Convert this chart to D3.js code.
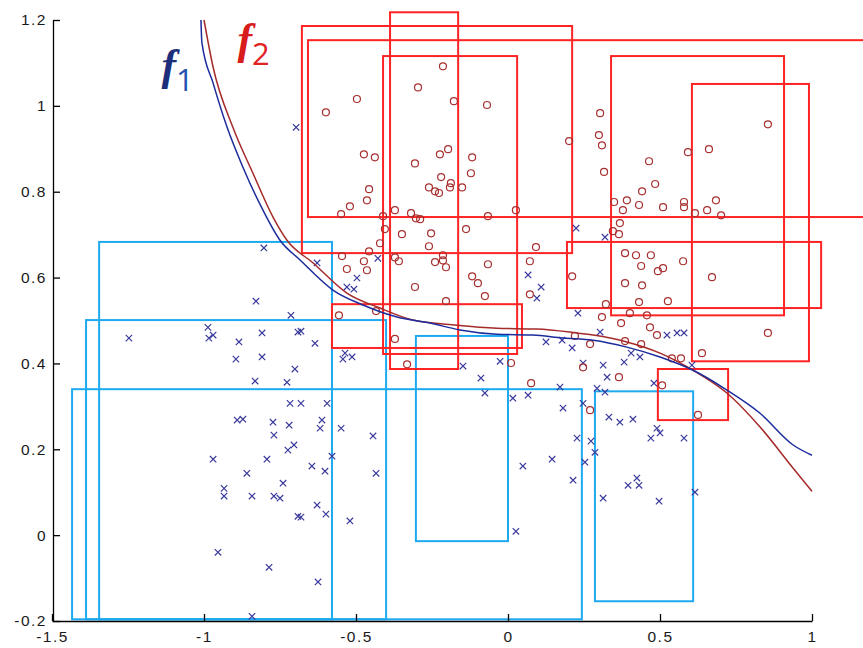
<!DOCTYPE html>
<html>
<head>
<meta charset="utf-8">
<script src="https://cdn.jsdelivr.net/npm/d3@7"></script>
<style>
  html, body { margin: 0; padding: 0; background: #fff; }
  svg { display: block; }
</style>
</head>
<body>
<div id="chart"></div>
<script>
// ---- data ----
const xTicks = [-1.5, -1, -0.5, 0, 0.5, 1];
const yTicks = [-0.2, 0, 0.2, 0.4, 0.6, 0.8, 1, 1.2];

// decision curves
const curveF1 = [
  [-1.010, 1.200], [-1.007, 1.148], [-0.970, 1.053], [-0.924, 0.950], [-0.872, 0.857],
  [-0.806, 0.757], [-0.750, 0.687], [-0.684, 0.641], [-0.576, 0.571], [-0.477, 0.536],
  [-0.365, 0.508], [-0.257, 0.494], [-0.158, 0.478], [-0.036, 0.468], [0.082, 0.466],
  [0.181, 0.459], [0.280, 0.454], [0.391, 0.438], [0.500, 0.415], [0.609, 0.384],
  [0.720, 0.338], [0.829, 0.284], [0.938, 0.210], [1.000, 0.186]
];
const curveF2 = [
  [-1.000, 1.200], [-0.970, 1.090], [-0.905, 0.950], [-0.839, 0.843], [-0.773, 0.741],
  [-0.727, 0.687], [-0.641, 0.634], [-0.530, 0.564], [-0.421, 0.529], [-0.313, 0.501],
  [-0.168, 0.489], [-0.036, 0.482], [0.095, 0.480], [0.214, 0.472], [0.280, 0.466],
  [0.391, 0.450], [0.500, 0.424], [0.609, 0.384], [0.720, 0.331], [0.829, 0.252],
  [0.938, 0.156], [1.000, 0.102]
];

// boxes: [x0, x1, y0, y1]
const redBoxes = [
  [-0.678, 0.211, 0.657, 1.186],
  [-0.658, 1.250, 0.741, 1.153],
  [-0.411, 0.030, 0.422, 1.116],
  [-0.388, -0.164, 0.387, 1.218],
  [0.339, 0.908, 0.512, 1.116],
  [0.605, 0.990, 0.405, 1.051],
  [0.194, 1.030, 0.529, 0.683],
  [-0.579, 0.046, 0.436, 0.538],
  [0.493, 0.724, 0.268, 0.387]
];
const blueBoxes = [
  [-1.345, -0.579, -0.196, 0.683],
  [-1.388, -0.401, -0.196, 0.501],
  [-1.434, 0.243, -0.196, 0.340],
  [-0.303, 0.000, -0.014, 0.464],
  [0.286, 0.609, -0.154, 0.335]
];

// class 2 samples (circles)
const redX = [
  -0.214, -0.296, -0.497, -0.599, -0.178, -0.069, 0.201, -0.474, -0.438, -0.306,
  -0.224, -0.197, -0.118, -0.122, -0.220, -0.260, -0.240, -0.227, -0.188, -0.191,
  -0.151, -0.457, -0.464, -0.520, -0.549, -0.411, -0.372, -0.319, -0.303, -0.289,
  -0.066, 0.026, 0.303, 0.299, 0.309, 0.316, 0.464, 0.592, 0.661, 0.855,
  0.484, 0.441, 0.349, 0.391, 0.378, 0.431, 0.510, 0.579, 0.579, 0.615,
  0.655, 0.684, 0.701, -0.405, -0.349, -0.253, -0.138, -0.421, -0.260, 0.092,
  -0.546, -0.457, -0.474, -0.464, -0.530, -0.372, -0.359, -0.240, -0.214, -0.214,
  -0.204, -0.066, 0.072, -0.118, -0.099, -0.076, -0.306, -0.204, 0.072, 0.211,
  -0.556, -0.434, -0.372, -0.332, 0.010, 0.076, 0.220, 0.368, 0.345, 0.365,
  0.385, 0.421, 0.470, 0.438, 0.493, 0.510, 0.576, 0.385, 0.441, 0.671,
  0.431, 0.526, 0.322, 0.401, 0.457, 0.309, 0.372, 0.467, 0.490, 0.270,
  0.385, 0.438, 0.539, 0.569, 0.638, 0.855, 0.247, 0.365, 0.507, 0.270,
  0.625
];
const redY = [
  1.092, 1.043, 1.016, 0.985, 1.011, 1.002, 0.918, 0.887, 0.880, 0.866,
  0.887, 0.899, 0.880, 0.843, 0.834, 0.810, 0.801, 0.797, 0.820, 0.810,
  0.810, 0.806, 0.780, 0.766, 0.748, 0.743, 0.757, 0.750, 0.738, 0.736,
  0.743, 0.757, 0.983, 0.932, 0.908, 0.846, 0.871, 0.892, 0.899, 0.957,
  0.818, 0.801, 0.776, 0.780, 0.757, 0.769, 0.764, 0.776, 0.764, 0.750,
  0.757, 0.780, 0.745, 0.713, 0.701, 0.703, 0.713, 0.680, 0.673, 0.671,
  0.650, 0.661, 0.638, 0.617, 0.620, 0.647, 0.638, 0.636, 0.652, 0.640,
  0.624, 0.631, 0.638, 0.603, 0.587, 0.557, 0.578, 0.545, 0.561, 0.603,
  0.512, 0.522, 0.457, 0.398, 0.401, 0.354, 0.464, 0.727, 0.708, 0.701,
  0.657, 0.652, 0.652, 0.627, 0.615, 0.622, 0.638, 0.587, 0.582, 0.601,
  0.543, 0.545, 0.538, 0.517, 0.512, 0.508, 0.494, 0.484, 0.466, 0.445,
  0.452, 0.445, 0.412, 0.412, 0.424, 0.471, 0.391, 0.368, 0.349, 0.291,
  0.280
];

// class 1 samples (crosses)
const blueX = [
  -0.697, -0.803, -0.829, -0.714, -0.987, -0.970, -0.984, -0.809, -0.691, -0.885,
  -1.247, -0.895, -0.809, -0.701, -0.832, -0.727, -0.717, -0.891, -0.872, -0.773,
  -0.720, -0.770, -0.724, -0.704, -0.970, -0.793, -0.859, -0.740, -0.934, -0.934,
  -0.842, -0.770, -0.750, -0.691, -0.954, -0.786, -0.842, -0.618, -0.549, -0.444,
  -0.579, -0.645, -0.602, -0.434, -0.628, -0.599, -0.681, -0.520, -0.625, 0.026,
  0.049, 0.145, 0.214, 0.227, 0.273, 0.286, 0.253, 0.470, 0.500, 0.579,
  0.395, 0.424, 0.431, 0.313, 0.497, 0.615, -0.428, -0.628, -0.497, -0.530,
  -0.507, -0.681, -0.635, -0.536, -0.513, -0.543, -0.681, -0.595, -0.612, -0.148,
  -0.089, -0.076, -0.026, 0.066, 0.109, 0.095, 0.016, 0.066, 0.171, 0.181,
  0.125, 0.178, 0.211, 0.230, 0.224, 0.319, 0.303, 0.523, 0.556, 0.579,
  0.405, 0.382, 0.434, 0.313, 0.326, 0.247, 0.605, 0.480, 0.293, 0.319,
  0.247, 0.332, 0.368, 0.411, 0.490
];
const blueY = [
  0.950, 0.669, 0.545, 0.512, 0.484, 0.466, 0.459, 0.471, 0.473, 0.450,
  0.459, 0.410, 0.415, 0.387, 0.359, 0.356, 0.307, 0.268, 0.270, 0.263,
  0.256, 0.233, 0.198, 0.210, 0.177, 0.177, 0.144, 0.121, 0.109, 0.091,
  0.091, 0.091, 0.086, 0.044, -0.040, -0.075, -0.189, 0.249, 0.249, 0.231,
  0.184, 0.161, 0.149, 0.144, 0.070, 0.049, 0.042, 0.033, -0.109, 0.009,
  0.161, 0.177, 0.128, 0.226, 0.219, 0.193, 0.170, 0.226, 0.238, 0.226,
  0.116, 0.133, 0.116, 0.086, 0.079, 0.100, 0.645, 0.634, 0.599, 0.578,
  0.573, 0.475, 0.447, 0.424, 0.415, 0.410, 0.307, 0.307, 0.268, 0.394,
  0.366, 0.331, 0.405, 0.606, 0.578, 0.552, 0.319, 0.326, 0.345, 0.296,
  0.450, 0.454, 0.436, 0.517, 0.715, 0.694, 0.473, 0.466, 0.471, 0.471,
  0.424, 0.403, 0.415, 0.396, 0.368, 0.401, 0.396, 0.354, 0.342, 0.333,
  0.307, 0.275, 0.263, 0.270, 0.249
];

// ---- drawing ----
const width = 863, height = 648;
const svg = d3.select('#chart').append('svg')
    .attr('width', width).attr('height', height)
    .attr('viewBox', `0 0 ${width} ${height}`);

const x = d3.scaleLinear().domain([-1.5, 1]).range([52, 812]);
const y = d3.scaleLinear().domain([-0.2, 1.2]).range([621, 20]);

const COL = {
    redBox: '#ff2424',
    blueBox: '#1eaaf0',
    circle: '#a83030',
    cross: '#3a3a9c',
    f1: '#1c2c9c',
    f2: '#a52a2a'
};

// boxes
svg.append('g').selectAll('rect').data(blueBoxes).join('rect')
    .attr('x', (d) => x(d[0])).attr('y', (d) => y(d[3]))
    .attr('width', (d) => x(d[1]) - x(d[0])).attr('height', (d) => y(d[2]) - y(d[3]))
    .attr('fill', 'none').attr('stroke', COL.blueBox).attr('stroke-width', 2);

svg.append('g').selectAll('rect').data(redBoxes).join('rect')
    .attr('x', (d) => x(d[0])).attr('y', (d) => y(d[3]))
    .attr('width', (d) => x(d[1]) - x(d[0])).attr('height', (d) => y(d[2]) - y(d[3]))
    .attr('fill', 'none').attr('stroke', COL.redBox).attr('stroke-width', 2);

// samples
const crosses = blueX.map((v, i) => [v, blueY[i]]);
const circles = redX.map((v, i) => [v, redY[i]]);
const s = 3.2;
svg.append('g').selectAll('path').data(crosses).join('path')
    .attr('d', (d) => {
        const cx = x(d[0]), cy = y(d[1]);
        return `M${cx - s},${cy - s}L${cx + s},${cy + s}M${cx - s},${cy + s}L${cx + s},${cy - s}`;
    })
    .attr('stroke', COL.cross).attr('stroke-width', 1.2).attr('fill', 'none');

svg.append('g').selectAll('circle').data(circles).join('circle')
    .attr('cx', (d) => x(d[0])).attr('cy', (d) => y(d[1])).attr('r', 3.5)
    .attr('fill', 'none').attr('stroke', COL.circle).attr('stroke-width', 1.2);

// curves
const line = d3.line().x((d) => x(d[0])).y((d) => y(d[1])).curve(d3.curveMonotoneX);
svg.append('path').datum(curveF2).attr('d', line)
    .attr('fill', 'none').attr('stroke', COL.f2).attr('stroke-width', 1.5);
svg.append('path').datum(curveF1).attr('d', line)
    .attr('fill', 'none').attr('stroke', COL.f1).attr('stroke-width', 1.5);

// axes (MATLAB style, ticks pointing in)
const fmt = (d) => String(+d.toFixed(1));
const styleAxis = (g) => {
    g.selectAll('path.domain').attr('stroke', '#000').attr('stroke-width', 1.3);
    g.selectAll('.tick line').attr('stroke', '#000').attr('stroke-width', 1.3);
    g.selectAll('.tick text')
        .attr('fill', '#1a1a1a')
        .style('font-family', 'Liberation Sans, Arial, sans-serif')
        .style('font-size', '15.5px')
        .style('letter-spacing', '1.5px');
};
svg.append('g').attr('transform', `translate(0,${y(-0.2)})`)
    .call(d3.axisBottom(x).tickValues(xTicks).tickFormat(fmt)
        .tickSizeInner(-7).tickSizeOuter(0).tickPadding(10))
    .call(styleAxis);
svg.append('g').attr('transform', `translate(${x(-1.5) + 1},0)`)
    .call(d3.axisLeft(y).tickValues(yTicks).tickFormat(fmt)
        .tickSizeInner(-7).tickSizeOuter(0).tickPadding(6))
    .call(styleAxis);

// curve labels
function label(tx, ty, sub, color, subColor) {
    const t = svg.append('text')
        .attr('x', x(tx)).attr('y', y(ty))
        .attr('fill', color);
    t.append('tspan').text('f')
        .style('font-family', 'Liberation Serif, serif')
        .style('font-style', 'italic')
        .style('font-weight', 'bold')
        .style('font-size', '44px');
    t.append('tspan').text(sub).attr('dx', 0).attr('dy', 11)
        .attr('fill', subColor)
        .style('font-family', 'Open Sans, sans-serif')
        .style('font-size', '31px');
}
label(-1.14, 1.060, '1', '#1d2f7a', '#2452b0');
label(-0.89, 1.120, '2', '#d81c1c', '#e02424');
</script>
</body>
</html>
